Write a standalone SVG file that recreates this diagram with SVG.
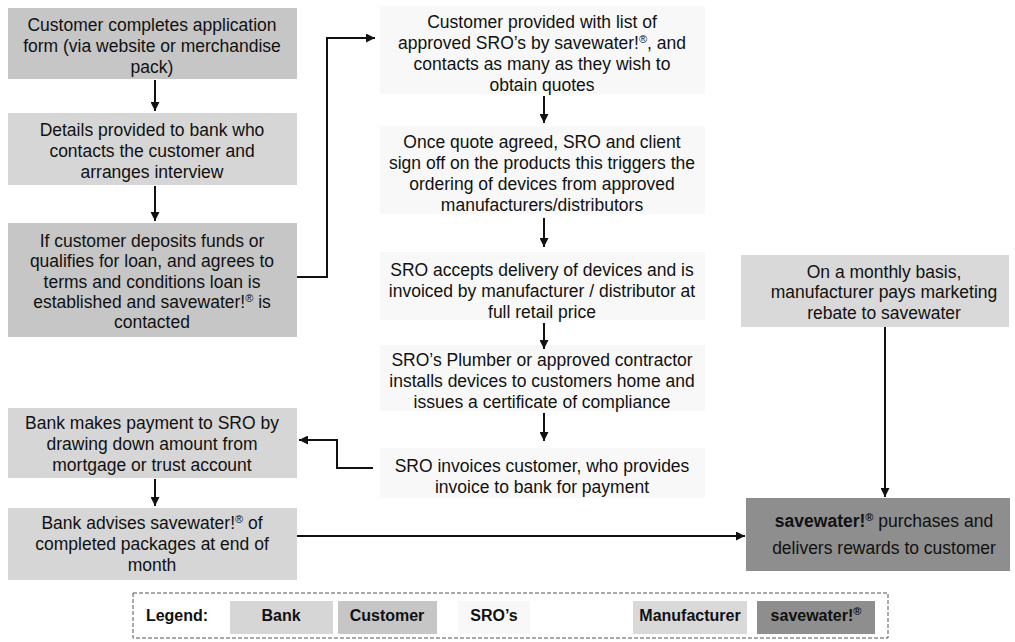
<svg xmlns="http://www.w3.org/2000/svg" width="1015" height="642" viewBox="0 0 1015 642">
<defs>
<marker id="ah" viewBox="0 0 10 10" refX="10" refY="5" markerWidth="9" markerHeight="9" markerUnits="userSpaceOnUse" orient="auto">
<path d="M0,0 L10,5 L0,10 Z" fill="#111"/>
</marker>
<style>
text{font-family:"Liberation Sans",Arial,sans-serif;font-size:17.5px;fill:#111;text-anchor:middle}
.cust{fill:#c6c6c6}
.bank{fill:#d6d6d6}
.sro{fill:#f8f8f8}
.manu{fill:#d9d9d9}
.sw{fill:#8e8e8e}
.conn path{fill:none;stroke:#111;stroke-width:2;marker-end:url(#ah)}
.leg text{font-weight:bold;font-size:16px}
.sup{font-size:11px}
</style>
</defs>
<rect width="1015" height="642" fill="#fff"/>

<g id="n1"><rect class="cust" x="8" y="8" width="289" height="71"/>
<text x="152" y="31">Customer completes application</text>
<text x="152" y="52">form (via website or merchandise</text>
<text x="152" y="73">pack)</text></g>

<g id="n2"><rect class="bank" x="8" y="113" width="289" height="72"/>
<text x="152" y="136">Details provided to bank who</text>
<text x="152" y="157">contacts the customer and</text>
<text x="152" y="178">arranges interview</text></g>

<g id="n3"><rect class="cust" x="8" y="223" width="289" height="114"/>
<text x="152" y="247">If customer deposits funds or</text>
<text x="152" y="267">qualifies for loan, and agrees to</text>
<text x="152" y="288">terms and conditions loan is</text>
<text x="152" y="308">established and savewater!<tspan class="sup" dy="-6">®</tspan><tspan dy="6"> is</tspan></text>
<text x="152" y="328">contacted</text></g>

<g id="n4"><rect class="bank" x="8" y="408" width="289" height="70"/>
<text x="152" y="429">Bank makes payment to SRO by</text>
<text x="152" y="450">drawing down amount from</text>
<text x="152" y="471">mortgage or trust account</text></g>

<g id="n5"><rect class="bank" x="8" y="508" width="289" height="72"/>
<text x="152" y="529">Bank advises savewater!<tspan class="sup" dy="-6">®</tspan><tspan dy="6"> of</tspan></text>
<text x="152" y="550">completed packages at end of</text>
<text x="152" y="571">month</text></g>

<g id="s1"><rect class="sro" x="380" y="6" width="325" height="88"/>
<text x="542" y="28">Customer provided with list of</text>
<text x="542" y="49">approved SRO’s by savewater!<tspan class="sup" dy="-6">®</tspan><tspan dy="6">, and</tspan></text>
<text x="542" y="70">contacts as many as they wish to</text>
<text x="542" y="91">obtain quotes</text></g>

<g id="s2"><rect class="sro" x="380" y="126" width="325" height="88"/>
<text x="542" y="148">Once quote agreed, SRO and client</text>
<text x="542" y="169">sign off on the products this triggers the</text>
<text x="542" y="190">ordering of devices from approved</text>
<text x="542" y="211">manufacturers/distributors</text></g>

<g id="s3"><rect class="sro" x="380" y="252" width="325" height="68"/>
<text x="542" y="276">SRO accepts delivery of devices and is</text>
<text x="542" y="297">invoiced by manufacturer / distributor at</text>
<text x="542" y="318">full retail price</text></g>

<g id="s4"><rect class="sro" x="380" y="345" width="325" height="66"/>
<text x="542" y="366">SRO’s Plumber or approved contractor</text>
<text x="542" y="387">installs devices to customers home and</text>
<text x="542" y="408">issues a certificate of compliance</text></g>

<g id="s5"><rect class="sro" x="380" y="448" width="325" height="50"/>
<text x="542" y="472">SRO invoices customer, who provides</text>
<text x="542" y="493">invoice to bank for payment</text></g>

<g id="m1"><rect class="manu" x="741" y="255" width="268" height="72"/>
<text x="884" y="278">On a monthly basis,</text>
<text x="884" y="298">manufacturer pays marketing</text>
<text x="884" y="319">rebate to savewater</text></g>

<g id="w1"><rect class="sw" x="746" y="498" width="264" height="73"/>
<text x="884" y="527"><tspan font-weight="bold">savewater!<tspan class="sup" dy="-6">®</tspan></tspan><tspan dy="6"> purchases and</tspan></text>
<text x="884" y="554">delivers rewards to customer</text></g>

<g class="conn" id="connectors">
<path d="M155,80 V111"/>
<path d="M155,186 V221"/>
<path d="M297,277 H327 V38 H375"/>
<path d="M544,96 V123"/>
<path d="M544,218 V247"/>
<path d="M544,323 V349"/>
<path d="M544,413 V441"/>
<path d="M373,468 H337 V440 H299"/>
<path d="M155,479 V506"/>
<path d="M297,536 H745"/>
<path d="M885,327 V497"/>
</g>

<g id="legend" class="leg">
<rect x="133" y="593" width="755" height="45" fill="#fff" stroke="#555" stroke-width="1" stroke-dasharray="4 2"/>
<text x="177" y="621">Legend:</text>
<rect class="bank" x="230" y="601" width="103" height="33"/>
<text x="281" y="621">Bank</text>
<rect class="cust" x="338" y="601" width="99" height="33"/>
<text x="387" y="621">Customer</text>
<rect class="sro" x="458" y="601" width="72" height="33"/>
<text x="494" y="621">SRO’s</text>
<rect class="manu" x="633" y="601" width="114" height="33"/>
<text x="690" y="621">Manufacturer</text>
<rect class="sw" x="757" y="601" width="118" height="33"/>
<text x="816" y="621">savewater!<tspan class="sup" dy="-6">®</tspan></text>
</g>
</svg>
